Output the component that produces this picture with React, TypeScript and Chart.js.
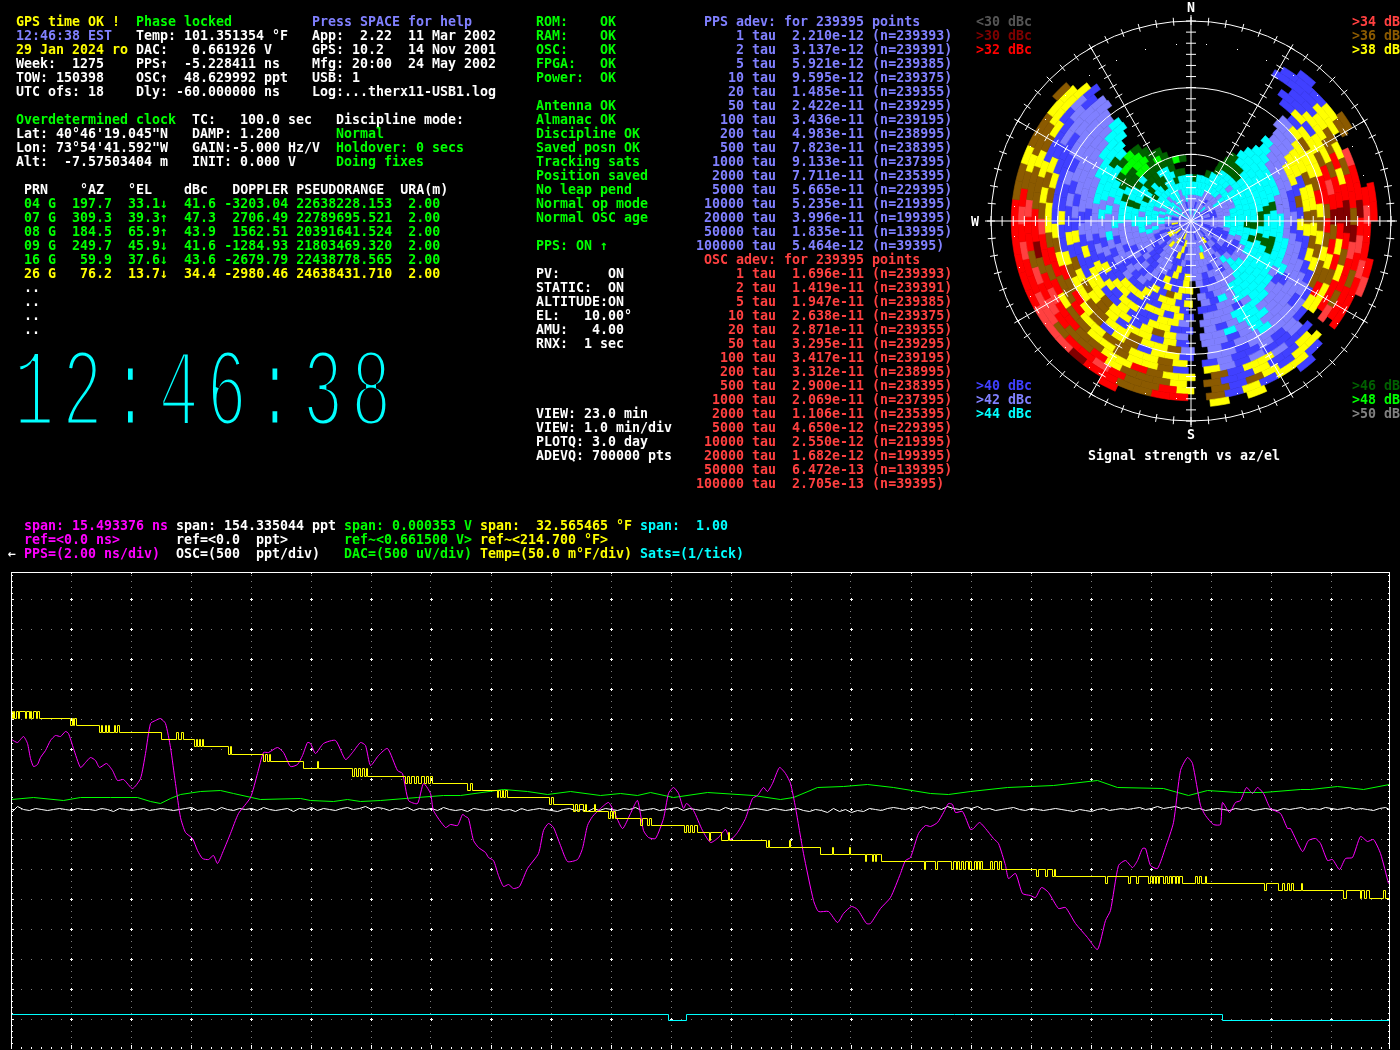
import React, { useEffect, useRef } from "react";
import { Chart, registerables } from "chart.js";

Chart.register(...registerables);

// ---------- status text (col, row, colour, text) ----------
const YEL = "#ffff00", LAV = "#8080ff", GRN = "#00ff00", WHT = "#ffffff", RED = "#ff4040", MAG = "#ff00ff", CYN = "#00ffff";

const statusLines: [number, number, string, string][] = [
  [2, 1, YEL, "GPS time OK !"], [17, 1, GRN, "Phase locked"], [39, 1, LAV, "Press SPACE for help"],
  [2, 2, LAV, "12:46:38 EST"], [17, 2, WHT, "Temp: 101.351354 °F"], [39, 2, WHT, "App:  2.22  11 Mar 2002"],
  [2, 3, YEL, "29 Jan 2024 ro"], [17, 3, WHT, "DAC:   0.661926 V"], [39, 3, WHT, "GPS: 10.2   14 Nov 2001"],
  [2, 4, WHT, "Week:  1275"], [17, 4, WHT, "PPS↑  -5.228411 ns"], [39, 4, WHT, "Mfg: 20:00  24 May 2002"],
  [2, 5, WHT, "TOW: 150398"], [17, 5, WHT, "OSC↑  48.629992 ppt"], [39, 5, WHT, "USB: 1"],
  [2, 6, WHT, "UTC ofs: 18"], [17, 6, WHT, "Dly: -60.000000 ns"], [39, 6, WHT, "Log:...therx11-USB1.log"],
  [2, 8, GRN, "Overdetermined clock"], [24, 8, WHT, "TC:   100.0 sec"], [42, 8, WHT, "Discipline mode:"],
  [2, 9, WHT, "Lat: 40°46'19.045\"N"], [24, 9, WHT, "DAMP: 1.200"], [42, 9, GRN, "Normal"],
  [2, 10, WHT, "Lon: 73°54'41.592\"W"], [24, 10, WHT, "GAIN:-5.000 Hz/V"], [42, 10, GRN, "Holdover: 0 secs"],
  [2, 11, WHT, "Alt:  -7.57503404 m"], [24, 11, WHT, "INIT: 0.000 V"], [42, 11, GRN, "Doing fixes"],
  [3, 13, WHT, "PRN    °AZ   °EL    dBc   DOPPLER PSEUDORANGE  URA(m)"],
  [3, 14, GRN, "04 G  197.7  33.1↓  41.6 -3203.04 22638228.153  2.00"],
  [3, 15, GRN, "07 G  309.3  39.3↑  47.3  2706.49 22789695.521  2.00"],
  [3, 16, GRN, "08 G  184.5  65.9↑  43.9  1562.51 20391641.524  2.00"],
  [3, 17, GRN, "09 G  249.7  45.9↓  41.6 -1284.93 21803469.320  2.00"],
  [3, 18, GRN, "16 G   59.9  37.6↓  43.6 -2679.79 22438778.565  2.00"],
  [3, 19, YEL, "26 G   76.2  13.7↓  34.4 -2980.46 24638431.710  2.00"],
  [3, 20, WHT, ".."], [3, 21, WHT, ".."], [3, 22, WHT, ".."], [3, 23, WHT, ".."],
  [67, 1, GRN, "ROM:    OK"], [67, 2, GRN, "RAM:    OK"], [67, 3, GRN, "OSC:    OK"], [67, 4, GRN, "FPGA:   OK"], [67, 5, GRN, "Power:  OK"],
  [67, 7, GRN, "Antenna OK"], [67, 8, GRN, "Almanac OK"], [67, 9, GRN, "Discipline OK"], [67, 10, GRN, "Saved posn OK"],
  [67, 11, GRN, "Tracking sats"], [67, 12, GRN, "Position saved"], [67, 13, GRN, "No leap pend"], [67, 14, GRN, "Normal op mode"],
  [67, 15, GRN, "Normal OSC age"], [67, 17, GRN, "PPS: ON ↑"],
  [67, 19, WHT, "PV:      ON"], [67, 20, WHT, "STATIC:  ON"], [67, 21, WHT, "ALTITUDE:ON"], [67, 22, WHT, "EL:   10.00°"],
  [67, 23, WHT, "AMU:   4.00"], [67, 24, WHT, "RNX:  1 sec"],
  [67, 29, WHT, "VIEW: 23.0 min"], [67, 30, WHT, "VIEW: 1.0 min/div"], [67, 31, WHT, "PLOTQ: 3.0 day"], [67, 32, WHT, "ADEVQ: 700000 pts"],
  [88, 1, LAV, "PPS adev: for 239395 points"], [88, 18, RED, "OSC adev: for 239395 points"],
  [122, 1, "#555555", "<30 dBc"], [122, 2, "#800000", ">30 dBc"], [122, 3, "#ff0000", ">32 dBc"],
  [169, 1, "#ff4040", ">34 dBc"], [169, 2, "#8b5a00", ">36 dBc"], [169, 3, "#ffff00", ">38 dBc"],
  [122, 27, "#4040ff", ">40 dBc"], [122, 28, "#8080ff", ">42 dBc"], [122, 29, "#00ffff", ">44 dBc"],
  [169, 27, "#006000", ">46 dBc"], [169, 28, "#00ff00", ">48 dBc"], [169, 29, "#808080", ">50 dBc"],
  [136, 32, WHT, "Signal strength vs az/el"],
  [3, 37, MAG, "span: 15.493376 ns"], [22, 37, WHT, "span: 154.335044 ppt"], [43, 37, GRN, "span: 0.000353 V"], [60, 37, YEL, "span:  32.565465 °F"], [80, 37, CYN, "span:  1.00"],
  [3, 38, MAG, "ref=<0.0 ns>"], [22, 38, WHT, "ref=<0.0  ppt>"], [43, 38, GRN, "ref~<0.661500 V>"], [60, 38, YEL, "ref~<214.700 °F>"],
  [1, 39, WHT, "←"], [3, 39, MAG, "PPS=(2.00 ns/div)"], [22, 39, WHT, "OSC=(500  ppt/div)"], [43, 39, GRN, "DAC=(500 uV/div)"], [60, 39, YEL, "Temp=(50.0 m°F/div)"], [80, 39, CYN, "Sats=(1/tick)"],
];

const tauList = ["1", "2", "5", "10", "20", "50", "100", "200", "500", "1000", "2000", "5000", "10000", "20000", "50000", "100000"];
const ppsAdev = ["2.210e-12", "3.137e-12", "5.921e-12", "9.595e-12", "1.485e-11", "2.422e-11", "3.436e-11", "4.983e-11", "7.823e-11", "9.133e-11", "7.711e-11", "5.665e-11", "5.235e-11", "3.996e-11", "1.835e-11", "5.464e-12"];
const oscAdev = ["1.696e-11", "1.419e-11", "1.947e-11", "2.638e-11", "2.871e-11", "3.295e-11", "3.417e-11", "3.312e-11", "2.900e-11", "2.069e-11", "1.106e-11", "4.650e-12", "2.550e-12", "1.682e-12", "6.472e-13", "2.705e-13"];
const adevN = ["239393", "239391", "239385", "239375", "239355", "239295", "239195", "238995", "238395", "237395", "235395", "229395", "219395", "199395", "139395", "39395"];

const clockText = "12:46:38";

// ---------- strip chart traces: [seconds, counts] (30 counts = one division) ----------
const gridColumns = [60,120,180,240,300,360,420,480,540,600,660,720,780,840,900,960,1020,1080,1140,1200,1260,1320];
const gridRows = [-210,-180,-150,-120,-90,-60,-30,0,30,60,90,120,150,180,210];

const ppsTrace = [
  [0,70],[6,67],[12,73],[16,66],[19,51],[22,43],[26,45],[29,52],[34,59],[39,69],[44,74],[49,73],[54,78],[57,76],[62,61],[69,42],[74,47],[79,52],[84,49],[88,42],[95,46],[101,39],[106,29],[112,30],[121,21],[129,31],[134,56],[139,86],[144,89],[149,91],[154,86],[159,62],[164,26],[169,-8],[174,-23],[181,-29],[186,-41],[191,-49],[197,-50],[202,-46],[206,-54],[212,-41],[219,-24],[227,-4],[239,12],[246,36],[252,57],[257,57],[266,62],[272,57],[279,43],[286,45],[291,54],[296,67],[299,66],[304,56],[312,66],[324,69],[334,50],[341,57],[349,67],[354,64],[359,44],[367,54],[376,61],[386,39],[391,36],[397,9],[406,6],[412,26],[419,16],[422,-1],[434,-18],[439,-15],[446,-16],[451,-5],[454,-7],
  [457,-9],[462,-31],[467,-38],[474,-43],[477,-48],[482,-51],[487,-66],[492,-77],[497,-75],[502,-79],[508,-77],[516,-59],[527,-44],[532,-21],[537,-14],[542,-18],[549,-36],[556,-52],[566,-50],[571,-39],[576,-16],[581,-7],[589,1],[597,7],[602,-1],[611,-19],[619,-4],[626,9],[632,-21],[637,-28],[644,-29],[652,-9],[657,16],[662,22],[667,16],[672,1],[675,6],[682,-1],[691,-21],[699,-33],[707,-28],[714,-20],[719,-30],[726,-23],[734,-9],[741,11],[746,14],[752,22],[756,18],[761,26],[768,42],[774,36],[779,26],[784,2],[792,-44],[802,-91],[807,-102],[817,-102],[826,-113],[832,-104],[840,-97],[846,-100],[855,-114],[859,-114],[869,-99],[879,-88],[889,-64],[894,-51],[899,-48],[907,-24],[914,-16],[919,-17],
  [926,-13],[932,-3],[937,6],[941,5],[944,-3],[951,-2],[959,-20],[962,-19],[968,-13],[974,-19],[982,-29],[987,-34],[994,-56],[997,-69],[1004,-64],[1011,-84],[1019,-86],[1024,-88],[1030,-78],[1037,-83],[1047,-99],[1054,-98],[1064,-114],[1076,-128],[1086,-140],[1094,-111],[1099,-101],[1107,-56],[1114,-51],[1121,-58],[1126,-51],[1131,-39],[1134,-39],[1139,-56],[1146,-59],[1154,-38],[1162,-13],[1169,39],[1176,52],[1181,46],[1189,4],[1194,-6],[1202,-15],[1209,-15],[1211,7],[1218,-3],[1224,7],[1229,9],[1235,22],[1241,16],[1246,22],[1252,16],[1259,1],[1269,-4],[1276,-19],[1279,-19],[1291,-42],[1297,-31],[1304,-29],[1309,-34],[1316,-51],[1321,-50],[1328,-60],[1334,-49],[1341,-48],[1349,-27],[1356,-32],[1362,-30],[1369,-44],[1377,-74],
];

const tempSteps = [
  [0,98],[1,91],[2,98],[3,91],[5,98],[7,91],[8,98],[14,91],[15,98],[18,91],[19,98],[20,91],[22,98],[25,91],[26,98],[28,91],
  [59,84],[61,91],[62,84],[63,91],[65,84],[88,77],[90,84],[91,77],[94,84],[95,77],[97,84],[98,77],[103,84],[104,77],[106,84],[108,77],
  [150,70],[165,77],[167,70],[170,77],[172,70],[183,63],[185,70],[186,63],[188,70],[189,63],[191,70],[192,63],
  [217,55],[219,63],[220,55],[252,48],[254,55],[256,48],[258,55],[259,48],[292,41],[306,48],[307,41],
  [341,33],[343,41],[345,33],[347,41],[349,33],[351,41],[353,33],[355,41],[356,33],
  [394,26],[396,33],[398,26],[400,33],[403,26],[405,33],[407,26],[410,33],[413,26],[415,33],[417,26],[419,33],[421,26],
  [456,19],[459,26],[461,19],[486,12],[487,19],[489,12],[491,19],[492,12],[494,19],[496,12],
  [538,5],[540,12],[542,5],[562,-2],[564,5],[566,-2],[568,5],[572,-2],[574,5],[575,-2],[583,5],[584,-2],
  [597,-9],[599,-2],[601,-9],[602,-2],[604,-9],[629,-16],[631,-9],[636,-16],[638,-9],[640,-16],
  [673,-23],[675,-16],[677,-23],[679,-16],[681,-23],[683,-16],[686,-23],[698,-31],[699,-23],[710,-31],[717,-23],[718,-31],
  [755,-38],[757,-31],[758,-38],[778,-31],[779,-38],[809,-45],[821,-38],[822,-45],[838,-38],[839,-45],
  [854,-52],[855,-45],[861,-52],[862,-45],[864,-52],[865,-45],[869,-45],[870,-52],[913,-60],[914,-52],
  [924,-60],[926,-52],[940,-60],[942,-52],[945,-60],[946,-52],[948,-60],[950,-52],[952,-60],[954,-52],[957,-60],[958,-52],[960,-60],[963,-52],[965,-60],[966,-52],[968,-60],[969,-52],[971,-60],
  [979,-52],[981,-60],[983,-52],[986,-60],[988,-52],[990,-60],[993,-60],
  [1025,-67],[1027,-60],[1034,-67],[1036,-60],[1041,-67],[1043,-60],[1044,-67],[1094,-74],[1096,-67],
  [1117,-74],[1119,-67],[1125,-74],[1127,-67],[1137,-74],[1139,-67],[1141,-74],[1142,-67],[1144,-74],[1145,-67],[1147,-74],[1148,-67],[1152,-74],[1154,-67],[1156,-74],[1158,-67],[1160,-74],[1161,-67],[1164,-74],[1165,-67],[1167,-74],[1168,-67],[1171,-74],
  [1184,-67],[1186,-74],[1188,-67],[1190,-74],[1194,-67],[1195,-74],[1253,-81],[1255,-74],[1267,-81],[1271,-74],[1273,-81],[1276,-74],[1278,-81],[1280,-74],[1282,-81],[1290,-74],[1291,-81],
  [1332,-89],[1335,-81],[1349,-89],[1350,-81],[1353,-89],[1355,-81],[1358,-89],[1372,-81],[1374,-89],[1378,-89],
];

const dacTrace = [
  [0,10],[22,12],[52,9],[69,12],[99,12],[126,12],[139,8],[149,6],[159,11],[169,15],[189,18],[209,19],[222,16],[249,10],[289,11],[299,9],[322,8],[336,10],[349,8],[369,9],[406,12],[432,14],[449,14],
  [492,20],[516,18],[536,15],[559,18],[589,14],[609,16],[626,14],[639,17],[662,12],[696,17],[742,14],[769,10],[782,12],[806,22],[832,23],[856,25],[882,22],[919,16],
  [937,15],[959,18],[996,22],[1042,24],[1086,29],[1106,22],[1152,21],[1177,14],[1196,19],[1226,17],[1252,17],[1289,20],[1299,20],[1326,23],[1352,20],[1378,25],
];

// one reading every six seconds
const oscReadings = [
  -3,3,0,-1,1,0,-1,0,1,0,-1,1,0,0,-1,1,0,-2,1,0,-1,0,1,-1,0,1,0,-1,0,1,2,-1,0,1,-1,2,0,-1,1,0,
  1,-1,2,0,-1,0,1,-2,1,0,2,-1,1,0,-1,1,2,0,1,3,0,2,1,-1,1,0,2,-1,1,0,1,-1,2,0,-1,0,-2,1,0,-1,
  0,1,-1,0,-2,1,-1,0,1,0,-1,-2,0,1,-1,0,-2,1,-1,1,0,-1,1,0,2,-1,0,1,-1,0,1,2,-1,1,0,-1,1,0,-1,2,
  0,1,-1,0,1,0,-1,1,0,-1,0,1,-1,-2,0,-1,-3,1,-2,0,-3,-1,-2,1,0,-1,1,2,1,0,2,1,3,1,2,0,3,1,0,2,
  1,3,0,1,-1,0,1,2,0,-1,1,0,-1,0,1,0,-1,-2,0,-1,-2,0,1,-1,0,1,0,1,2,0,1,3,1,2,3,1,2,0,1,-1,
  0,1,0,-1,1,0,1,-1,0,1,0,-1,1,0,1,2,0,1,0,2,1,0,1,2,0,1,0,-1,1,2,-1,1,0,1,2,0,-1,1,0,-1,
];

const satSteps = [[0,-205],[657,-211],[675,-205],[1211,-211],[1378,-211]];

// ---------- sky plot: rings from the horizon inwards, six degrees per char, from north clockwise ----------
const skyColours: Record<string, string> = {
  d: "#800000", r: "#ff0000", l: "#ff4040", b: "#8b5a00", y: "#ffff00", B: "#4040ff",
  L: "#8080ff", C: "#00ffff", g: "#006000", G: "#00ff00", x: "#808080", ".": "rgba(0,0,0,0)",
};
const skyRings = [
  "",
  "",
  "......B..b ...rr..rl. ...B..y.y. ....r..... .......... ..b.......",
  ".....BBByb ...rlrrlrr r.ByyByBb. rrbbrrdlll rrrrrrbbyb byy.......",
  ".....BBByy .lrrdrlrbr r.yyBybBb. yrbbrlrrbl lrrlrlrbyb byyy......",
  "......BByb ybrrbdlrrb l.yBByBBb. ybbbyrbbrl rlbrrlbbyb yBLB......",
  "......BByy bryrddrbyr r.BBLyyBb. yybryybbrr lrbdrrbbyB BBLB......",
  "......ByBy ybrrdryrby y.LBBLBLy. Bbyybyybby rbrrlbybyB LLLL......",
  ".......Byy brlrdbrybr yBLBLBBLB. ybyybbyyrb brrbyybyBB BLLL......",
  ".......Lyb yyrrbrbybb BLLLLLBLL. ByyBbyBbyr brybyBBBBB LLLL......",
  ".......LLy yybrybybyB LBLLCLLBL. Lbyybyybby ybyBByBBLB LLLL......",
  ".......LLy ybyybybyBL LLLLCLBLL. ByByyBybyb ybByBBLBLL LLLC......",
  ".......LLy yByybyBBLL LLLCCLCLL. LybyByybyy BBByBLBLLL LLCC......",
  ".......CLL yyBbByBLLL BLLLCCLBL. BByyBByBBy yByBLBLLLL LCCC......",
  ".......CLL LLBBLBLLLC BLCCCCLLL. LyyBByyByB yBBLLBLLLC CCC.......",
  ".......CCL LLLLLLLCCC LCCCLBLLL. ByByyBByyB yBLBLLLCCC CgC.......",
  "......CCCC CCLLCCCCCC CCCCCLLBB. ByyBByyyBB BLBLLCLCCC CgGg......",
  "......CCCC CCCgCCCggC CCCCCLCBL. yByyByBBLB LBLCLLCLCC gGGGg.....",
  ".....gCCCC CCCgCCCgCC CCCCCLLBL. BybByBLBLB LLBLCLLCCg ggGGgg....",
  ".....gggCC CCCCggCgCC CCCCLLLLB. yyByBBLBLB LBLLLCCCgC ggGGgGg...",
  "....ggggCC CCCCCgCgCC LCCLLLBBL. yBByBLBLBL BLLLLCCgCC gCgggggGg.",
  "....gCCCCC CCCCCgCCCL LLCLBLLBLL yByBLLBBLB LLLLCCCgCC CgggCCg...",
  "...gCCCCLC CCCCCCCCLB BBLCLLBLLL BByBLLLBBL LLLCCCLCCg CgCggCCgg.",
  "gCCCCCCCCC LLCCCCCCLL BBBLBLLLLL BLBBLLLBBB LLCLCCCCCC gCCgCCgCCC",
  "CCCCCCCCLC LLLLCCCLBB LLBBLLLyLL LLByBLLLBL BBLCLCCCLC CCCCCCCCCC",
  "CCCCLLLLLC LLLLLLLBBB LBLLBLCLLL LByLLLyLBB LBLLCCLCLC CCLCCCLCCC",
  "LLLLLLBLLL LBBBLLLLBB BLLByLLLLL LLyBByLLLy yBLBLLCLCC LCCLCCLLCL",
  "LLBLLLLCLB BLLBLLLBBL LLBLLLLBLL LLLyBLLByL BLByLBBLCL CLCLLLLBLL",
  "LBLLCLBLLB LLBLLLLBLL LBLLLLBLLB LLBLLBLLBL BLLBLLLLLB LCLLLLBLLC",
  "LLLLLLCLLL LLBLLLLCLL LLLBLLLLLL LLLLBLLLLL LLLLLLLLLL LLCLLLLLLL",
];
const ringTwist = [0,0,0,1,-1,1.5,-1.5,1,1.5,-1,-1.5,1,1.5,-1,1,-1.5,1.5,-1,1,-1.5,1.5,1,-1,1.5,-1.5,1,-1,1.5,-1,0];
const maskDotAzimuths = [
  -65,-55,-45,-35,-25,-15,-5,5,15,25,35,45,55,65,75,85,95,105,115,125,135,145,155,165,185,195,205,215,225,235,245,255,265,275,
];

const CX_PAD = 10;

export default function App() {
  const stripRef = useRef<HTMLCanvasElement>(null);
  const skyRef = useRef<HTMLCanvasElement>(null);

  useEffect(() => {
    document.body.style.margin = "0";
    document.body.style.background = "#000";
    document.documentElement.style.overflow = "hidden";

    const stripPlugin = {
      id: "stripFrame",
      beforeDatasetsDraw(chart: any) {
        const { ctx, scales } = chart;
        ctx.save();
        ctx.fillStyle = "#fff";
        for (const tx of scales.x.ticks) {
          for (const ty of scales.y.ticks) {
            const px = Math.round(scales.x.getPixelForValue(tx.value));
            const py = Math.round(scales.y.getPixelForValue(ty.value));
            ctx.fillRect(px - 1, py, 3, 1);
            ctx.fillRect(px, py - 1, 1, 3);
          }
        }
        ctx.restore();
        ctx.save();
        ctx.translate(0.5, 0.5);
      },
      afterDatasetsDraw(chart: any) {
        const { ctx, chartArea: a } = chart;
        ctx.restore();
        ctx.save();
        ctx.fillStyle = "#fff";
        ctx.fillRect(a.left, a.top, a.right - a.left + 1, 1);
        ctx.fillRect(a.left, a.top, 1, a.bottom - a.top);
        ctx.fillRect(a.right, a.top, 1, a.bottom - a.top);
        for (let i = 1; i * 6 < a.bottom - a.top; i++) {
          const len = i % 5 === 0 ? 3 : 2;
          ctx.fillRect(a.left, a.bottom - i * 6, len, 1);
          ctx.fillRect(a.right - len + 1, a.bottom - i * 6, len, 1);
        }
        for (let i = 1; i * 10 < a.right - a.left; i++) {
          const len = i % 6 === 0 ? 4 : 2;
          ctx.fillRect(a.left + i * 10, a.bottom - len, 1, len);
          if (i % 6 === 0) ctx.fillRect(a.left + i * 10, a.top, 1, 2);
        }
        ctx.restore();
      },
    };

    const pts = (arr: number[][]) => arr.map(([x, y]) => ({ x, y }));
    const strip = new Chart(stripRef.current!, {
      type: "scatter",
      data: {
        datasets: [
          { data: pts(tempSteps), borderColor: "#ffff00", borderWidth: 1, showLine: true, pointRadius: 0, stepped: true } as any,
          { data: pts(ppsTrace), borderColor: "#ff00ff", borderWidth: 1, showLine: true, pointRadius: 0, tension: 0.2 } as any,
          { data: pts(dacTrace), borderColor: "#00ff00", borderWidth: 1, showLine: true, pointRadius: 0 } as any,
          { data: oscReadings.map((y, i) => ({ x: i * 6, y })), borderColor: "#ffffff", borderWidth: 1, showLine: true, pointRadius: 0 } as any,
          { data: pts(satSteps), borderColor: "#00ffff", borderWidth: 1, showLine: true, pointRadius: 0, stepped: true } as any,
        ],
      },
      options: {
        animation: false,
        responsive: false,
        events: [],
        layout: { padding: { left: 11, right: 11, top: 572, bottom: 1 } },
        plugins: { legend: { display: false }, tooltip: { enabled: false } },
        scales: {
          x: {
            type: "linear", min: 0, max: 1378,
            afterBuildTicks: (s: any) => { s.ticks = gridColumns.map((value) => ({ value })); },
            ticks: { display: false, autoSkip: false },
            border: { display: false, dash: [1, 5], dashOffset: 3 },
            grid: { color: "#808080", lineWidth: 1, drawTicks: false },
          },
          y: {
            type: "linear", min: -240, max: 237,
            afterBuildTicks: (s: any) => { s.ticks = gridRows.map((value) => ({ value })); },
            ticks: { display: false, autoSkip: false },
            border: { display: false, dash: [1, 9] },
            grid: { color: "#808080", lineWidth: 1, drawTicks: false },
          },
        },
      } as any,
      plugins: [stripPlugin],
    } as any);

    const rings = skyRings.map((s) => s.replace(/ /g, "").padEnd(60, "."));
    const skyPlugin = {
      id: "skyGrid",
      afterDatasetsDraw(chart: any) {
        const { ctx, chartArea: a } = chart;
        const cx = (a.left + a.right) / 2, cy = (a.top + a.bottom) / 2, R = 200;
        const pol = (az: number, r: number) => {
          const t = (az * Math.PI) / 180;
          return [cx + r * Math.sin(t), cy - r * Math.cos(t)];
        };
        ctx.save();
        ctx.strokeStyle = "#fff";
        ctx.fillStyle = "#fff";
        ctx.lineWidth = 1;
        for (const r of [R / 3, (2 * R) / 3, R]) {
          ctx.beginPath();
          ctx.arc(cx, cy, r, 0, Math.PI * 2);
          ctx.stroke();
        }
        for (let az = 0; az < 360; az += 30) {
          const cardinal = az % 90 === 0;
          const [x0, y0] = pol(az, 0), [x1, y1] = pol(az, cardinal ? 206 : R);
          ctx.beginPath(); ctx.moveTo(x0, y0); ctx.lineTo(x1, y1); ctx.stroke();
          const half = cardinal ? 5 : 4;
          for (let el = 5; el <= 90; el += 5) {
            const r = (el / 90) * R;
            const [mx, my] = pol(az, r);
            const t = (az * Math.PI) / 180;
            const dx = Math.cos(t) * half, dy = Math.sin(t) * half;
            ctx.beginPath(); ctx.moveTo(mx - dx, my - dy); ctx.lineTo(mx + dx, my + dy); ctx.stroke();
          }
        }
        for (let az = 0; az < 360; az += 5) {
          const [ax, ay] = pol(az, R - 4), [bx, by] = pol(az, R + 4);
          ctx.beginPath(); ctx.moveTo(ax, ay); ctx.lineTo(bx, by); ctx.stroke();
        }
        for (const az of maskDotAzimuths) {
          const [dx, dy] = pol(az, (80 / 90) * R);
          ctx.fillRect(Math.round(dx), Math.round(dy), 1, 1);
        }
        ctx.restore();
      },
    };

    const sky = new Chart(skyRef.current!, {
      type: "doughnut",
      data: {
        datasets: rings.map((s, i) => ({
          data: s.split("").map(() => 1),
          backgroundColor: s.split("").map((c) => skyColours[c] || skyColours["."]),
          borderColor: s.split("").map((c) => skyColours[c] || skyColours["."]),
          borderWidth: 0.6,
          rotation: ringTwist[i],
        })),
      },
      options: {
        animation: false,
        responsive: false,
        events: [],
        cutout: 0,
        layout: { padding: CX_PAD },
        plugins: { legend: { display: false }, tooltip: { enabled: false } },
      } as any,
      plugins: [skyPlugin],
    } as any);

    return () => {
      strip.destroy();
      sky.destroy();
    };
  }, []);

  const cell: React.CSSProperties = {
    position: "absolute",
    whiteSpace: "pre",
    fontFamily: '"DejaVu Sans Mono", monospace',
    fontWeight: 700,
    fontSize: "13.3px",
    lineHeight: "14px",
    height: 14,
  };

  const adevRow = (tau: string, val: string, n: string, row: number, color: string) => (
    <div key={"a" + row} style={{ ...cell, left: 87 * 8, top: row * 14 + 1, color }}>
      {tau.padStart(6, " ") + " tau  " + val + " (n=" + n + ")"}
    </div>
  );

  return (
    <div style={{ position: "absolute", left: 0, top: 0, width: 1400, height: 1050, background: "#000", overflow: "hidden" }}>
      <canvas ref={stripRef} width={1400} height={1050} style={{ position: "absolute", left: 0, top: 0, width: 1400, height: 1050 }} />
      <canvas ref={skyRef} width={420} height={420} style={{ position: "absolute", left: 981, top: 11, width: 420, height: 420 }} />
      {statusLines.map(([col, row, color, text], i) => (
        <div key={i} style={{ ...cell, left: col * 8, top: row * 14 + 1, color }}>{text}</div>
      ))}
      {tauList.map((t, i) => adevRow(t, ppsAdev[i], adevN[i], i + 2, LAV))}
      {tauList.map((t, i) => adevRow(t, oscAdev[i], adevN[i], i + 19, RED))}
      <div style={{ ...cell, left: 1187, top: 1, color: WHT }}>N</div>
      <div style={{ ...cell, left: 971, top: 215, color: WHT }}>W</div>
      <div style={{ ...cell, left: 1187, top: 428, color: WHT }}>S</div>
      <div
        style={{
          position: "absolute", left: 14, top: 333, whiteSpace: "pre",
          fontFamily: '"Liberation Mono", monospace', fontWeight: 400, fontSize: 112, lineHeight: "126px",
          color: CYN, letterSpacing: 13, transform: "scaleX(0.6)", transformOrigin: "left top",
          WebkitTextStroke: "5px #000",
        }}
      >
        {clockText}
      </div>
    </div>
  );
}
